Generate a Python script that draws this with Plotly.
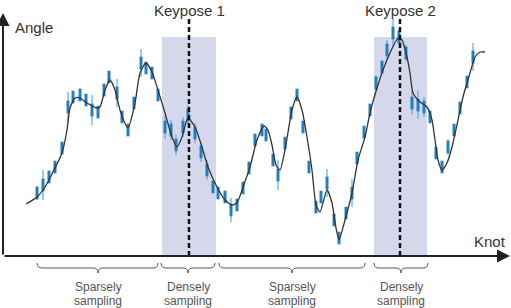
import plotly.graph_objects as go

# Smooth trajectory (knot position, angle)
curve_knot = [26,37,45,53,62,67,70,75,80,87,
              97,100,105,110,115,120,128,135,140,146,
              152,158,165,172,177,182,188,195,202,208,
              217,225,232,237,243,250,257,264,268,272,
              276,280,285,292,297,302,307,312,316,320,
              327,332,336,339,345,352,358,365,370,377,
              383,390,398,402,407,410,413,420,427,432,
              435,438,442,447,452,458,463,470,475,480,485]
curve_angle = [52,59,69,84,103,126,148,158,158,153,
               148,149,166,176,166,146,128,153,183,193,
               184,166,143,119,109,119,138,129,109,89,
               69,56,51,53,69,89,116,130,126,111,
               91,86,106,146,159,146,119,86,51,44,
               66,53,28,16,36,63,96,119,143,168,
               186,203,218,216,199,183,163,154,149,136,
               116,96,86,93,109,136,159,183,199,204,204]

# Noisy samples (knot, angle, spread)
sample_knot = [37,43,49,55,62,68,73,80,86,92,98,104,109,117,122,128,134,141,146,
               152,158,165,171,176,183,188,195,201,207,213,218,225,231,237,243,249,255,262,
               266,273,278,285,291,297,303,309,316,321,327,334,339,346,352,357,364,370,376,
               382,387,393,399,406,412,418,424,430,436,442,448,454,460,467,473]
sample_angle = [63,71,79,89,108,149,159,161,156,146,144,166,179,163,139,126,153,193,188,
                183,161,129,126,111,129,141,123,104,86,69,63,59,46,51,68,88,116,126,
                121,96,81,113,143,161,129,89,49,59,73,36,18,43,63,98,124,146,173,
                189,206,223,219,203,153,151,149,139,103,89,109,126,148,174,199]
sample_spread = [7,15,6,6,6,15,6,6,6,15,6,6,6,14,6,6,6,14,6,
                 6,6,12,10,10,10,10,10,10,10,6,6,6,12,6,6,6,6,6,
                 6,6,15,6,6,6,6,6,6,6,14,6,6,6,14,6,6,6,8,
                 6,10,14,8,8,12,14,10,6,6,6,8,6,6,6,14]

# Regions
dense_regions = [(162, 216), (374, 427)]
keypose_knots = [189, 400]
keypose_labels = ["Keypose 1", "Keypose 2"]
brace_spans = [(37, 98, 158), (161, 188, 215), (219, 292, 365), (374, 401, 428)]
brace_labels = [("Sparsely", "sampling"), ("Densely", "sampling"),
                ("Sparsely", "sampling"), ("Densely", "sampling")]

FONT = "Liberation Sans, Arial, sans-serif"

fig = go.Figure()

shapes = []
for x0, x1 in dense_regions:
    shapes.append(dict(type="rect", xref="x", yref="y", x0=x0, x1=x1, y0=0, y1=219,
                       fillcolor="#d5d8eb", line=dict(width=0), layer="below"))
for k in keypose_knots:
    shapes.append(dict(type="line", xref="x", yref="y", x0=k, x1=k, y0=0, y1=238,
                       line=dict(color="#111", width=2.5, dash="5px,3px")))

yt, ym, ytip, r = -7, -12, -17, 5
for x0, xm, x1 in brace_spans:
    p = (f"M {x0},{yt} Q {x0},{ym} {x0+r},{ym} L {xm-r},{ym} Q {xm},{ym} {xm},{ytip} "
         f"Q {xm},{ym} {xm+r},{ym} L {x1-r},{ym} Q {x1},{ym} {x1},{yt}")
    shapes.append(dict(type="path", xref="x", yref="y", path=p,
                       line=dict(color="#555", width=1)))

fig.add_trace(go.Scatter(
    x=sample_knot, y=sample_angle, mode="markers",
    marker=dict(symbol="line-ns", size=9, line=dict(color="#1f7fc2", width=3)),
    error_y=dict(type="data", array=sample_spread, visible=True, color="#5aa8de",
                 thickness=1.2, width=0),
    hoverinfo="skip", showlegend=False))

fig.add_trace(go.Scatter(
    x=curve_knot, y=curve_angle, mode="lines",
    line=dict(color="#333", width=1.3, shape="spline", smoothing=0.6),
    hoverinfo="skip", showlegend=False))

ann = []
# axes arrows
ann.append(dict(x=3, y=243, ax=3, ay=0, xref="x", yref="y", axref="x", ayref="y",
                showarrow=True, arrowhead=2, arrowsize=1.3, arrowwidth=2,
                arrowcolor="#222", text=""))
ann.append(dict(x=510, y=0, ax=3, ay=0, xref="x", yref="y", axref="x", ayref="y",
                showarrow=True, arrowhead=2, arrowsize=1.3, arrowwidth=2,
                arrowcolor="#222", text=""))
ann.append(dict(x=13, y=229, text="Angle", showarrow=False, xanchor="left",
                yanchor="middle", font=dict(family=FONT, size=15, color="#333")))
ann.append(dict(x=508, y=15, text="Knot", showarrow=False, xanchor="right",
                yanchor="middle", font=dict(family=FONT, size=15, color="#333")))
for k, lab in zip(keypose_knots, keypose_labels):
    ann.append(dict(x=k, y=246, text=lab, showarrow=False, xanchor="center",
                    yanchor="middle", font=dict(family=FONT, size=15, color="#333")))
for (x0, xm, x1), (l1, l2) in zip(brace_spans, brace_labels):
    ann.append(dict(x=xm, y=-31, text=l1, showarrow=False, xanchor="center",
                    yanchor="middle", font=dict(family=FONT, size=12, color="#555")))
    ann.append(dict(x=xm, y=-45, text=l2, showarrow=False, xanchor="center",
                    yanchor="middle", font=dict(family=FONT, size=12, color="#555")))

fig.update_layout(
    width=511, height=308, margin=dict(l=0, r=0, t=0, b=0),
    paper_bgcolor="white", plot_bgcolor="white",
    xaxis=dict(range=[0, 511], visible=False, fixedrange=True),
    yaxis=dict(range=[-52, 256], visible=False, fixedrange=True),
    shapes=shapes, annotations=ann, showlegend=False)

fig.write_html("out.html")
